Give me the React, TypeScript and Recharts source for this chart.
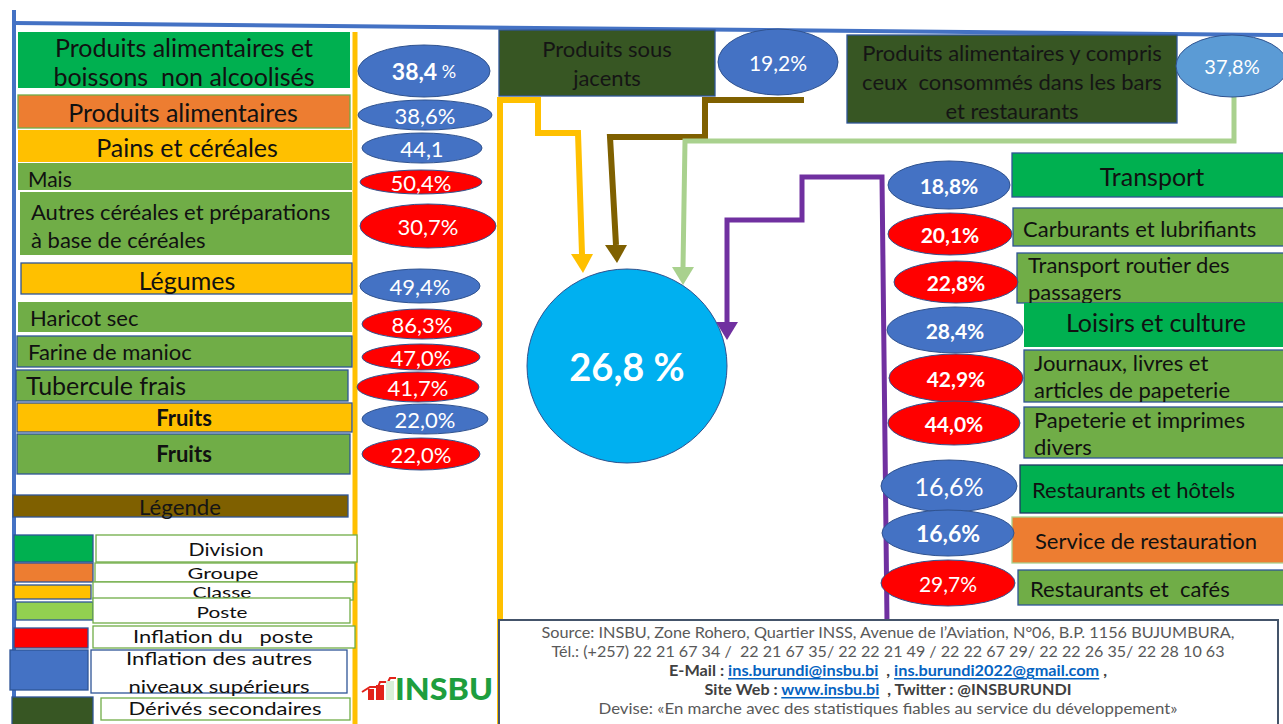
import React from "react";
import { ScatterChart, Scatter, XAxis, YAxis } from "recharts";

const W = 1283;
const H = 724;
const FONT = "Lato, 'Open Sans', 'DejaVu Sans', sans-serif";

// ---------------- DATA ----------------
const leftCategories = [
  "Produits alimentaires et|boissons  non alcoolisés",
  "Produits alimentaires",
  "Pains et céréales",
  "Mais",
  "Autres céréales et préparations|à base de céréales",
  "Légumes",
  "Haricot sec",
  "Farine de manioc",
  "Tubercule frais",
  "Fruits",
  "Fruits",
];
const leftLevels = ["Division", "Groupe", "Classe", "Poste", "Poste", "Classe", "Poste", "Poste", "Poste", "Classe", "Poste"];
const leftValues = [38.4, 38.6, 44.1, 50.4, 30.7, 49.4, 86.3, 47.0, 41.7, 22.0, 22.0];
const leftValueLabels = ["38,4 %", "38,6%", "44,1", "50,4%", "30,7%", "49,4%", "86,3%", "47,0%", "41,7%", "22,0%", "22,0%"];

const rightCategories = [
  "Transport",
  "Carburants et lubrifiants",
  "Transport routier des|passagers",
  "Loisirs et culture",
  "Journaux, livres et|articles de papeterie",
  "Papeterie et imprimes|divers",
  "Restaurants et hôtels",
  "Service de restauration",
  "Restaurants et  cafés",
];
const rightLevels = ["Division", "Poste", "Poste", "Division", "Poste", "Poste", "Division", "Groupe", "Poste"];
const rightValues = [18.8, 20.1, 22.8, 28.4, 42.9, 44.0, 16.6, 16.6, 29.7];
const rightValueLabels = ["18,8%", "20,1%", "22,8%", "28,4%", "42,9%", "44,0%", "16,6%", "16,6%", "29,7%"];

const topCategories = ["Produits sous|jacents", "Produits alimentaires y compris|ceux  consommés dans les bars|et restaurants"];
const topLevels = ["Dérivé", "Dérivé"];
const topValues = [19.2, 37.8];
const topValueLabels = ["19,2%", "37,8%"];

const headlineValue = 26.8;
const headlineLabel = "26,8 %";

const legendTitle = "Légende";
const legendLabels = ["Division", "Groupe", "Classe", "Poste", "Inflation du   poste", "Inflation des autres|niveaux supérieurs", "Dérivés secondaires"];

const logoText = "INSBU";

const footerLines = [
  "Source: INSBU, Zone Rohero, Quartier INSS, Avenue de l’Aviation, N°06, B.P. 1156 BUJUMBURA,",
  "Tél.: (+257) 22 21 67 34 /  22 21 67 35/ 22 22 21 49 / 22 22 67 29/ 22 22 26 35/ 22 28 10 63",
  "E-Mail : |ins.burundi@insbu.bi|  , |ins.burundi2022@gmail.com| ,",
  "Site Web : |www.insbu.bi|  , Twitter : @INSBURUNDI",
  "Devise: «En marche avec des statistiques fiables au service du développement»",
];

// ---------------- STYLES / LAYOUT ----------------
const levelFill: Record<string, string> = {
  Division: "#00B050",
  Groupe: "#ED7D31",
  Classe: "#FFC000",
  Poste: "#70AD47",
  "Dérivé": "#375623",
};
const legendSwatchFill = ["#00B050", "#ED7D31", "#FFC000", "#92D050", "#FF0000", "#4472C4", "#375623"];
const BLUE_BORDER = "#2F5597";

type BoxL = { x0: number; x1: number; y0: number; y1: number; fs: number; anchor: string; tx: number; ty: number[]; bold?: boolean; stroke?: string; tl?: number[] };

const leftBoxLayout: BoxL[] = [
  { x0: 18, x1: 350, y0: 32, y1: 88, fs: 25, anchor: "middle", tx: 184, ty: [47, 76] },
  { x0: 18, x1: 350, y0: 95, y1: 128, fs: 25, anchor: "middle", tx: 183, ty: [112], stroke: "#70AD47" },
  { x0: 18, x1: 352, y0: 130, y1: 162, fs: 25, anchor: "middle", tx: 187, ty: [147] },
  { x0: 18, x1: 352, y0: 163, y1: 190, fs: 21, anchor: "start", tx: 28, ty: [178] },
  { x0: 20, x1: 352, y0: 192, y1: 255, fs: 22, anchor: "start", tx: 31, ty: [211, 239] },
  { x0: 21, x1: 352, y0: 263, y1: 294, fs: 25, anchor: "middle", tx: 187, ty: [280], stroke: BLUE_BORDER },
  { x0: 18, x1: 352, y0: 302, y1: 332, fs: 22, anchor: "start", tx: 30, ty: [317] },
  { x0: 17, x1: 352, y0: 336, y1: 367, fs: 22, anchor: "start", tx: 28, ty: [351], stroke: BLUE_BORDER },
  { x0: 16, x1: 348, y0: 370, y1: 401, fs: 25, anchor: "start", tx: 26, ty: [385], stroke: BLUE_BORDER },
  { x0: 17, x1: 352, y0: 403, y1: 432, fs: 22, anchor: "middle", tx: 184, ty: [417], bold: true, stroke: BLUE_BORDER },
  { x0: 17, x1: 350, y0: 434, y1: 474, fs: 22, anchor: "middle", tx: 184, ty: [453], bold: true, stroke: BLUE_BORDER },
];

type EllL = { cx: number; cy: number; rx: number; ry: number; fs: number; bold?: boolean; fill?: string };
const leftEllipseLayout: EllL[] = [
  { cx: 424, cy: 71, rx: 66, ry: 26, fs: 23, bold: true },
  { cx: 425, cy: 115, rx: 67, ry: 15, fs: 22 },
  { cx: 422, cy: 148, rx: 60, ry: 15, fs: 22 },
  { cx: 421, cy: 182, rx: 61, ry: 12, fs: 22 },
  { cx: 428, cy: 226, rx: 68, ry: 22, fs: 22 },
  { cx: 420, cy: 286, rx: 60, ry: 17, fs: 22 },
  { cx: 422, cy: 324, rx: 60, ry: 15, fs: 22 },
  { cx: 421, cy: 357, rx: 59, ry: 13, fs: 22 },
  { cx: 418, cy: 387, rx: 61, ry: 15, fs: 22 },
  { cx: 425, cy: 419, rx: 63, ry: 15, fs: 22 },
  { cx: 421, cy: 454, rx: 59, ry: 16, fs: 22 },
];

const rightBoxLayout: BoxL[] = [
  { x0: 1012, x1: 1292, y0: 153, y1: 197, fs: 25, anchor: "middle", tx: 1152, ty: [176], stroke: BLUE_BORDER },
  { x0: 1013, x1: 1292, y0: 208, y1: 246, fs: 22, anchor: "start", tx: 1023, ty: [228], stroke: BLUE_BORDER },
  { x0: 1017, x1: 1292, y0: 253, y1: 303, fs: 22, anchor: "start", tx: 1028, ty: [264, 291], stroke: BLUE_BORDER },
  { x0: 1024, x1: 1292, y0: 303, y1: 347, fs: 25, anchor: "middle", tx: 1156, ty: [322] },
  { x0: 1024, x1: 1292, y0: 350, y1: 402, fs: 22, anchor: "start", tx: 1034, ty: [362, 389], stroke: BLUE_BORDER },
  { x0: 1024, x1: 1292, y0: 407, y1: 458, fs: 22, anchor: "start", tx: 1034, ty: [419, 446], stroke: BLUE_BORDER },
  { x0: 1020, x1: 1292, y0: 465, y1: 513, fs: 22, anchor: "start", tx: 1032, ty: [489], stroke: "#203864" },
  { x0: 1012, x1: 1292, y0: 517, y1: 563, fs: 22, anchor: "start", tx: 1035, ty: [540], stroke: "#A9D18E" },
  { x0: 1018, x1: 1292, y0: 570, y1: 605, fs: 22, anchor: "start", tx: 1030, ty: [588], stroke: BLUE_BORDER },
];
const rightEllipseLayout: EllL[] = [
  { cx: 949, cy: 185, rx: 61, ry: 24, fs: 21, bold: true },
  { cx: 950, cy: 234, rx: 62, ry: 21, fs: 21, bold: true },
  { cx: 956, cy: 282, rx: 62, ry: 21, fs: 21, bold: true },
  { cx: 955, cy: 330, rx: 68, ry: 23, fs: 21, bold: true },
  { cx: 956, cy: 378, rx: 67, ry: 24, fs: 21, bold: true },
  { cx: 954, cy: 423, rx: 66, ry: 22, fs: 21, bold: true },
  { cx: 949, cy: 486, rx: 68, ry: 26, fs: 25 },
  { cx: 948, cy: 533, rx: 66, ry: 23, fs: 23, bold: true },
  { cx: 948, cy: 583, rx: 67, ry: 23, fs: 21 },
];

const topBoxLayout: BoxL[] = [
  { x0: 499, x1: 715, y0: 30, y1: 96, fs: 22, anchor: "middle", tx: 607, ty: [48, 77], stroke: BLUE_BORDER },
  { x0: 847, x1: 1177, y0: 35, y1: 123, fs: 22, anchor: "middle", tx: 1012, ty: [52, 81, 110], stroke: BLUE_BORDER },
];
const topEllipseLayout: EllL[] = [
  { cx: 778, cy: 62, rx: 60, ry: 33, fs: 21, fill: "#4472C4" },
  { cx: 1232, cy: 66, rx: 56, ry: 31, fs: 20, fill: "#5B9BD5" },
];
const headlineLayout: EllL = { cx: 627, cy: 366, rx: 100, ry: 97, fs: 38, bold: true, fill: "#00B0F0" };

const legendTitleLayout: BoxL = { x0: 13, x1: 348, y0: 495, y1: 517, fs: 21, anchor: "middle", tx: 180, ty: [506], stroke: BLUE_BORDER, tl: [82] };
const legendSwatchLayout = [
  [14, 93, 535, 562], [14, 93, 563, 582], [14, 91, 585, 599], [16, 93, 602, 620],
  [14, 88, 628, 648], [10, 88, 650, 690], [12, 93, 697, 726],
];
const legendBoxLayout: BoxL[] = [
  { x0: 96, x1: 357, y0: 535, y1: 562, fs: 18, anchor: "middle", tx: 226, ty: [549], stroke: "#70AD47", tl: [75] },
  { x0: 95, x1: 355, y0: 563, y1: 582, fs: 16, anchor: "middle", tx: 223, ty: [572], stroke: "#70AD47", tl: [71] },
  { x0: 93, x1: 353, y0: 582, y1: 600, fs: 16, anchor: "middle", tx: 222, ty: [591], stroke: "#70AD47", tl: [59] },
  { x0: 93, x1: 350, y0: 598, y1: 623, fs: 16, anchor: "middle", tx: 222, ty: [611], stroke: "#70AD47", tl: [51] },
  { x0: 93, x1: 355, y0: 626, y1: 648, fs: 18, anchor: "middle", tx: 223, ty: [636], stroke: "#70AD47", tl: [180] },
  { x0: 91, x1: 347, y0: 650, y1: 693, fs: 18, anchor: "middle", tx: 219, ty: [658, 686], stroke: BLUE_BORDER, tl: [186, 181] },
  { x0: 101, x1: 350, y0: 698, y1: 720, fs: 18, anchor: "middle", tx: 225, ty: [708], stroke: "#70AD47", tl: [193] },
];

type Conn = { color: string; width: number; pts: number[][]; tip?: number[] };
const connectorLayout: Conn[] = [
  { color: "#4472C4", width: 4, pts: [[14, 724], [14, 10]] },
  { color: "#4472C4", width: 4, pts: [[14, 23], [1283, 35]] },
  { color: "#FFC000", width: 5, pts: [[355, 32], [355, 724]] },
  { color: "#FFC000", width: 6, pts: [[500, 724], [500, 100], [538, 100], [538, 133], [578, 133], [582, 254]], tip: [583, 273] },
  { color: "#7F6000", width: 6, pts: [[804, 100], [705, 100], [705, 137], [610, 137], [616, 245]], tip: [617, 263] },
  { color: "#A9D18E", width: 5, pts: [[1234, 97], [1234, 141], [685, 141], [683, 267]], tip: [683, 285] },
  { color: "#7030A0", width: 5, pts: [[887, 622], [882, 177], [802, 177], [802, 220], [727, 220], [727, 322]], tip: [727, 340] },
];

const footerLayout = { x0: 499, x1: 1278, y0: 620, y1: 728, cx: 888, ty: [632, 651, 670, 689, 708], widths: [693, 673, 438, 367, 579], bold: [false, false, true, true, false] };
const logoLayout = { x: 430, y: 688 };

// ---------------- SHAPES ----------------
function BoxShape(p: any) {
  const d = p.payload;
  const x0 = p.cx - d.w / 2;
  const y0 = p.cy - d.h / 2;
  return (
    <g>
      <rect x={x0} y={y0} width={d.w} height={d.h} fill={d.fill} stroke={d.stroke || "none"} strokeWidth={1.3} />
      {(d.lines || []).map((t: string, i: number) => (
        <text
          key={i}
          x={p.cx + d.tdx}
          y={p.cy + d.tdy[i]}
          textAnchor={d.anchor}
          dominantBaseline="central"
          fontSize={d.fs}
          fontWeight={d.bold ? 700 : 400}
          fill={d.color || "#111"}
          fontFamily={FONT}
          textLength={d.tl ? d.tl[i] : undefined}
          lengthAdjust={d.tl ? "spacingAndGlyphs" : undefined}
          style={{ whiteSpace: "pre" }}
        >
          {t}
        </text>
      ))}
    </g>
  );
}

function EllipseShape(p: any) {
  const d = p.payload;
  const label: string = d.label;
  const hasSmallPct = label.endsWith(" %") && d.smallPct;
  return (
    <g>
      <ellipse cx={p.cx} cy={p.cy} rx={d.rx} ry={d.ry} fill={d.fill} stroke="#2F528F" strokeWidth={1} />
      <text
        x={p.cx}
        y={p.cy}
        textAnchor="middle"
        dominantBaseline="central"
        fontSize={d.fs}
        fontWeight={d.bold ? 700 : 400}
        fill="#FFFFFF"
        fontFamily={FONT}
      >
        {hasSmallPct ? (
          <>
            <tspan>{label.slice(0, -2)}</tspan>
            <tspan fontSize={d.fs * 0.78} fontWeight={400}>{" %"}</tspan>
          </>
        ) : (
          label
        )}
      </text>
    </g>
  );
}

function ConnectorPoint(p: any) {
  const d = p.payload;
  if (!d.tip) return <g />;
  const bx = p.cx;
  const by = p.cy;
  const tx = p.cx + d.tip[0];
  const ty = p.cy + d.tip[1];
  const hw = 11;
  return <polygon points={`${bx - hw},${by} ${bx + hw},${by} ${tx},${ty}`} fill={d.color} />;
}

function FooterShape(p: any) {
  const d = p.payload;
  const x0 = p.cx - d.w / 2;
  const y0 = p.cy - d.h / 2;
  return (
    <g>
      <rect x={x0} y={y0} width={d.w} height={d.h} fill="#FFFFFF" stroke="#44546A" strokeWidth={2} />
      {d.lines.map((line: string, i: number) => {
        const parts = line.split("|");
        return (
          <text
            key={i}
            x={x0 + d.tcx}
            y={y0 + d.ty[i]}
            textAnchor="middle"
            dominantBaseline="central"
            fontSize={15}
            fontWeight={d.bold[i] ? 700 : 400}
            fill={d.bold[i] ? "#404040" : "#595959"}
            fontFamily={FONT}
            textLength={d.widths[i]}
            lengthAdjust="spacingAndGlyphs"
            style={{ whiteSpace: "pre" }}
          >
            {parts.map((seg, j) => (
              <tspan key={j} fill={j % 2 === 1 ? "#0563C1" : undefined} textDecoration={j % 2 === 1 ? "underline" : undefined}>
                {seg}
              </tspan>
            ))}
          </text>
        );
      })}
    </g>
  );
}

function LogoShape(p: any) {
  const d = p.payload;
  const x = p.cx;
  const y = p.cy;
  return (
    <g>
      <polyline points={`${x - 68},${y + 4} ${x - 60},${y - 1} ${x - 52},${y - 1} ${x - 50},${y - 6} ${x - 42},${y - 6} ${x - 40},${y - 10} ${x - 34},${y - 10}`} fill="none" stroke="#E2231A" strokeWidth={2} />
      <rect x={x - 62} y={y + 1} width={6} height={11} fill="#E2231A" />
      <rect x={x - 54} y={y - 3} width={8} height={15} fill="#E2231A" />
      <rect x={x - 44} y={y - 7} width={8} height={19} fill="#D9EFD9" />
      <text x={x + 14} y={y} textAnchor="middle" dominantBaseline="central" fontSize={30} fontWeight={900} fill="#1E9E3E" fontFamily={FONT} textLength={98} lengthAdjust="spacingAndGlyphs">
        {d.label}
      </text>
    </g>
  );
}

// ---------------- BUILDERS ----------------
function boxDatum(label: string | null, L: BoxL, fill: string, color?: string) {
  const cx = (L.x0 + L.x1) / 2;
  const cy = (L.y0 + L.y1) / 2;
  return {
    x: cx,
    y: cy,
    w: L.x1 - L.x0,
    h: L.y1 - L.y0,
    fill,
    stroke: L.stroke,
    lines: label ? label.split("|") : [],
    anchor: L.anchor,
    tdx: L.tx - cx,
    tdy: L.ty.map((t) => t - cy),
    fs: L.fs,
    bold: L.bold,
    tl: L.tl,
    color,
  };
}

function ellipseDatum(label: string, value: number, L: EllL, fill: string, smallPct = false) {
  return { x: L.cx, y: L.cy, rx: L.rx, ry: L.ry, fs: L.fs, bold: L.bold, fill: L.fill || fill, label, value, smallPct };
}

export default function App() {
  const leftBoxes = leftCategories.map((c, i) => boxDatum(c, leftBoxLayout[i], levelFill[leftLevels[i]]));
  const leftEllipses = leftValues.map((v, i) =>
    ellipseDatum(leftValueLabels[i], v, leftEllipseLayout[i], leftLevels[i] === "Poste" ? "#FF0000" : "#4472C4", i === 0)
  );
  const rightBoxes = rightCategories.map((c, i) => boxDatum(c, rightBoxLayout[i], levelFill[rightLevels[i]]));
  const rightEllipses = rightValues.map((v, i) =>
    ellipseDatum(rightValueLabels[i], v, rightEllipseLayout[i], rightLevels[i] === "Poste" ? "#FF0000" : "#4472C4")
  );
  const topBoxes = topCategories.map((c, i) => boxDatum(c, topBoxLayout[i], levelFill[topLevels[i]], "#151515"));
  const topEllipses = topValues.map((v, i) => ellipseDatum(topValueLabels[i], v, topEllipseLayout[i], "#4472C4"));
  const headline = [ellipseDatum(headlineLabel, headlineValue, headlineLayout, "#00B0F0")];

  const legendTitleData = [boxDatum(legendTitle, legendTitleLayout, "#7F6000", "#151515")];
  const legendSwatches = legendSwatchLayout.map((s, i) =>
    boxDatum(null, { x0: s[0], x1: s[1], y0: s[2], y1: s[3], fs: 0, anchor: "middle", tx: 0, ty: [], stroke: BLUE_BORDER }, legendSwatchFill[i])
  );
  const legendBoxes = legendLabels.map((l, i) => boxDatum(l, legendBoxLayout[i], "#FFFFFF", "#111"));

  const connectors = connectorLayout.map((c) =>
    c.pts.map((pt, j) => ({
      x: pt[0],
      y: pt[1],
      color: c.color,
      tip: c.tip && j === c.pts.length - 1 ? [c.tip[0] - pt[0], c.tip[1] - pt[1]] : null,
    }))
  );

  const F = footerLayout;
  const footer = [
    {
      x: (F.x0 + F.x1) / 2,
      y: (F.y0 + F.y1) / 2,
      w: F.x1 - F.x0,
      h: F.y1 - F.y0,
      lines: footerLines,
      tcx: F.cx - F.x0,
      ty: F.ty.map((t) => t - F.y0),
      widths: F.widths,
      bold: F.bold,
    },
  ];
  const logo = [{ x: logoLayout.x, y: logoLayout.y, label: logoText }];

  return (
    <div style={{ position: "absolute", left: 0, top: 0, width: W, height: H, background: "#FFFFFF", overflow: "hidden" }}>
      <ScatterChart width={W} height={H} margin={{ top: 0, right: 0, bottom: 0, left: 0 }}>
        <XAxis type="number" dataKey="x" domain={[0, W]} hide allowDataOverflow />
        <YAxis type="number" dataKey="y" domain={[0, H]} reversed hide allowDataOverflow />
        {connectors.map((data, i) => (
          <Scatter
            key={"conn" + i}
            data={data}
            fill="none"
            line={{ stroke: connectorLayout[i].color, strokeWidth: connectorLayout[i].width, strokeLinejoin: "miter" }}
            shape={ConnectorPoint}
            isAnimationActive={false}
          />
        ))}
        <Scatter data={footer} shape={FooterShape} isAnimationActive={false} />
        <Scatter data={leftBoxes} shape={BoxShape} isAnimationActive={false} />
        <Scatter data={leftEllipses} shape={EllipseShape} isAnimationActive={false} />
        <Scatter data={topBoxes} shape={BoxShape} isAnimationActive={false} />
        <Scatter data={topEllipses} shape={EllipseShape} isAnimationActive={false} />
        <Scatter data={rightBoxes} shape={BoxShape} isAnimationActive={false} />
        <Scatter data={rightEllipses} shape={EllipseShape} isAnimationActive={false} />
        <Scatter data={headline} shape={EllipseShape} isAnimationActive={false} />
        <Scatter data={legendTitleData} shape={BoxShape} isAnimationActive={false} />
        <Scatter data={legendSwatches} shape={BoxShape} isAnimationActive={false} />
        <Scatter data={legendBoxes} shape={BoxShape} isAnimationActive={false} />
        <Scatter data={logo} shape={LogoShape} isAnimationActive={false} />
      </ScatterChart>
    </div>
  );
}
